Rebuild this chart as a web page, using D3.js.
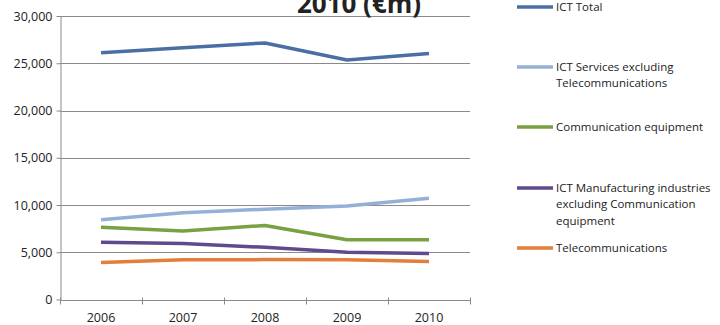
<!DOCTYPE html>
<html>
<head>
<meta charset="utf-8">
<script src="https://cdn.jsdelivr.net/npm/d3@7"></script>
<style>
  html, body { margin: 0; padding: 0; background: #fff; }
  svg { display: block; }
  text { font-family: "Open Sans", "Liberation Sans", sans-serif; fill: #222; }
</style>
</head>
<body>
<svg id="chart" width="720" height="325"></svg>
<script>
// Years on the horizontal axis
const years = ["2006", "2007", "2008", "2009", "2010"];

// Series values (€m)
const ictTotal = [26100, 26650, 27150, 25350, 26030];
const ictServices = [8450, 9180, 9560, 9890, 10710];
const commEquipment = [7650, 7250, 7840, 6330, 6330];
const ictManufacturing = [6070, 5930, 5520, 5000, 4870];
const telecoms = [3920, 4200, 4220, 4200, 4030];

// Value-axis ticks
const yTicks = [0, 5000, 10000, 15000, 20000, 25000, 30000];

const seriesNames = [
  "ICT Total",
  "ICT Services excluding Telecommunications",
  "Communication equipment",
  "ICT Manufacturing industries excluding Communication equipment",
  "Telecommunications"
];
const seriesValues = [ictTotal, ictServices, commEquipment, ictManufacturing, telecoms];
const seriesColors = ["#4a6fa5", "#94b0d6", "#78a142", "#5e4a8c", "#e27f3a"];

// Legend labels wrapped as in the chart
const legendLines = [
  ["ICT Total"],
  ["ICT Services excluding", "Telecommunications"],
  ["Communication equipment"],
  ["ICT Manufacturing industries", "excluding Communication", "equipment"],
  ["Telecommunications"]
];
const legendY = [7, 67, 127, 188, 248];

const svg = d3.select("#chart");
const plot = { left: 60, right: 470, top: 16, bottom: 299.5 };

const x = d3.scaleBand().domain(years).range([plot.left, plot.right]);
const y = d3.scaleLinear().domain([0, 30000]).range([plot.bottom, plot.top]);

// Horizontal gridlines
svg.append("g")
  .selectAll("line")
  .data(yTicks.filter(d => d > 0))
  .join("line")
  .attr("x1", plot.left).attr("x2", plot.right)
  .attr("y1", d => Math.round(y(d)) + 0.5).attr("y2", d => Math.round(y(d)) + 0.5)
  .attr("stroke", "#8a8a8a").attr("stroke-width", 1);

// Value axis
const yAxis = svg.append("g")
  .attr("transform", `translate(${plot.left + 0.5},0)`)
  .call(d3.axisLeft(y).tickValues(yTicks).tickFormat(d3.format(",")).tickSize(4).tickSizeOuter(0).tickPadding(4));
yAxis.select(".domain").attr("stroke", "#8a8a8a");
yAxis.selectAll(".tick line").attr("stroke", "#8a8a8a");
yAxis.selectAll(".tick text")
  .style("font-family", "'Open Sans', sans-serif")
  .style("font-size", "12.5px").attr("fill", "#222");

// Category axis with ticks between categories
const xAxisG = svg.append("g")
  .attr("transform", `translate(0,${Math.round(plot.bottom) + 0.5})`);
xAxisG.append("line")
  .attr("x1", plot.left).attr("x2", plot.right)
  .attr("stroke", "#8a8a8a");
const boundaries = years.map(d => x(d)).concat([x(years[years.length - 1]) + x.bandwidth()]);
xAxisG.selectAll("line.tk")
  .data(boundaries)
  .join("line")
  .attr("class", "tk")
  .attr("x1", d => Math.round(d) + 0.5).attr("x2", d => Math.round(d) + 0.5)
  .attr("y1", -3).attr("y2", 4)
  .attr("stroke", "#8a8a8a");
xAxisG.selectAll("text")
  .data(years)
  .join("text")
  .attr("x", d => x(d) + x.bandwidth() / 2)
  .attr("y", 21)
  .attr("text-anchor", "middle")
  .style("font-size", "12.5px")
  .text(d => d);

// Series lines
const line = d3.line()
  .x((d, i) => x(years[i]) + x.bandwidth() / 2)
  .y(d => y(d));

svg.append("g")
  .selectAll("path")
  .data(seriesValues)
  .join("path")
  .attr("d", d => line(d))
  .attr("fill", "none")
  .attr("stroke", (d, i) => seriesColors[i])
  .attr("stroke-width", 3.5)
  .attr("stroke-linejoin", "round");

// Title (top part runs off the top edge)
svg.append("text")
  .attr("x", 359).attr("y", 13)
  .attr("text-anchor", "middle")
  .style("font-size", "26px").style("font-weight", "bold")
  .attr("fill", "#111")
  .text("2010 (€m)");

// Legend
const legend = svg.append("g");
seriesNames.forEach((name, i) => {
  const g = legend.append("g").attr("transform", `translate(0,${legendY[i]})`);
  g.append("line")
    .attr("x1", 517).attr("x2", 553).attr("y1", 0).attr("y2", 0)
    .attr("stroke", seriesColors[i]).attr("stroke-width", 3.5);
  legendLines[i].forEach((t, j) => {
    g.append("text")
      .attr("x", 556).attr("y", j * 16.3)
      .attr("dy", "0.35em")
      .style("font-size", "11.5px")
      .text(t);
  });
});
</script>
</body>
</html>
